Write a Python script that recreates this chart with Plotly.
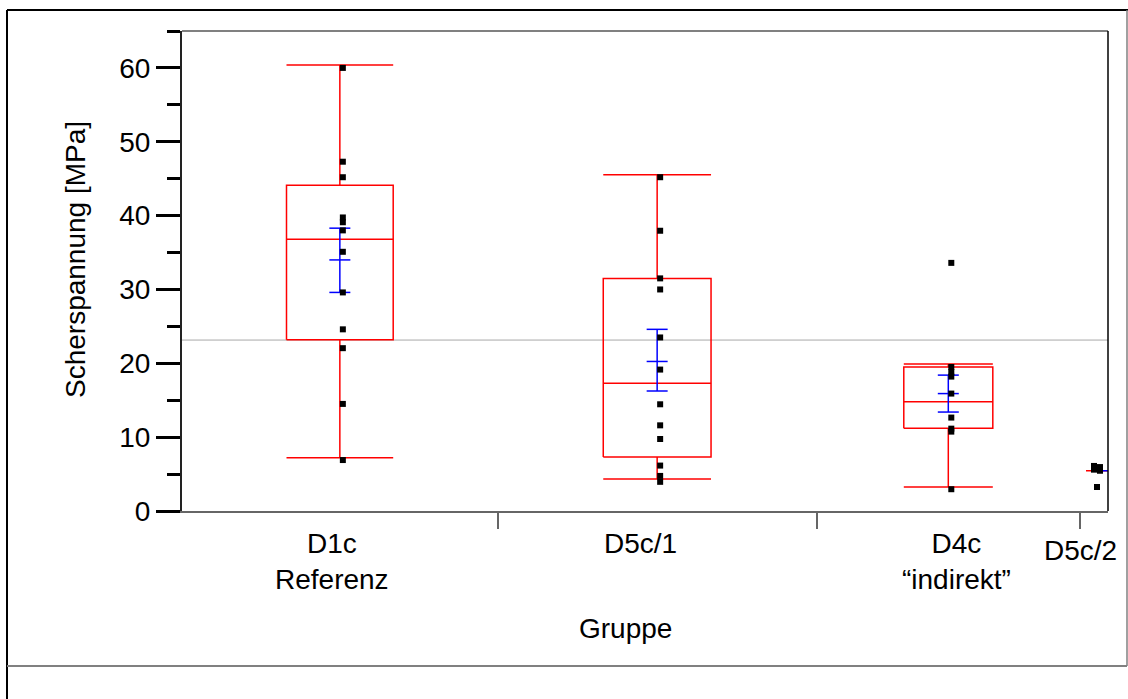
import plotly.graph_objects as go

# ---------------- data ----------------
groups = ["D1c", "D5c/1", "D4c", "D5c/2"]
group_labels = ["D1c<br>Referenz", "D5c/1", "D4c<br>\u201cindirekt\u201d", "D5c/2"]

points_d1c = [60.0, 47.3, 45.2, 39.75, 39.1, 38.0, 35.1, 29.6, 24.6, 22.05, 14.5, 6.9]
points_d5c1 = [45.2, 37.95, 31.5, 30.0, 23.5, 19.15, 14.45, 11.6, 9.75, 6.15, 4.75, 3.95]
points_d4c = [33.6, 19.5, 18.8, 18.2, 15.9, 12.65, 11.15, 10.75, 2.95]
points_d5c2 = [6.1, 5.95, 5.6, 5.45, 3.25]

q1 = [23.2, 7.3, 11.2, None]
median = [36.8, 17.3, 14.8, 5.45]
q3 = [44.1, 31.5, 19.5, None]
whisker_low = [7.2, 4.35, 3.25, None]
whisker_high = [60.4, 45.55, 19.9, None]
mean = [34.0, 20.25, 15.9, 5.45]
se_low = [29.6, 16.25, 13.4, None]
se_high = [38.3, 24.6, 18.4, None]
grand_mean = 23.15

y_tick_values = [0, 10, 20, 30, 40, 50, 60]
y_tick_labels = ["0", "10", "20", "30", "40", "50", "60"]

points = [points_d1c, points_d5c1, points_d4c, points_d5c2]

# ---------------- layout constants ----------------
W, H = 1128, 699
L, R, T, B = 182, 1108, 31, 511
group_span = [315.7, 318.9, 263.4, 28.0]       # relative category widths (JMP style)
jitter = [None, None, None, [-3, 3, -3, 3, 0]]
label_dx = [-8, -17, 8, -14]
label_top = [526, 526, 526, 533]
FONT = "Liberation Sans, Arial, sans-serif"
RED = "#ff0000"
BLUE = "#0000ff"


def px2x(px):
    return (px - L) / (R - L)


def py2y(py):
    return (B - py) / (B - T)


starts = []
acc = 0.0
for s in group_span:
    starts.append(acc)
    acc += s
total = acc
centers = [st + s / 2 for st, s in zip(starts, group_span)]
boundaries = starts[1:]

fig = go.Figure()

# grand mean line
fig.add_trace(go.Scatter(x=[0, total], y=[grand_mean, grand_mean], mode="lines",
                         line=dict(color="#a8a8a8", width=1), hoverinfo="skip", showlegend=False))

# red boxes, whiskers, medians
for i in range(len(groups)):
    c = centers[i]
    hw = group_span[i] * 0.169
    xs, ys = [], []
    if q1[i] is not None:
        xs += [c - hw, c + hw, c + hw, c - hw, c - hw, None]
        ys += [q1[i], q1[i], q3[i], q3[i], q1[i], None]
        xs += [c - hw, c + hw, None]
        ys += [median[i], median[i], None]
        xs += [c, c, None, c, c, None]
        ys += [q3[i], whisker_high[i], None, q1[i], whisker_low[i], None]
        xs += [c - hw, c + hw, None, c - hw, c + hw, None]
        ys += [whisker_high[i], whisker_high[i], None, whisker_low[i], whisker_low[i], None]
    else:
        xs += [c - 8, c + 14, None]
        ys += [median[i], median[i], None]
    fig.add_trace(go.Scatter(x=xs, y=ys, mode="lines", line=dict(color=RED, width=1.5),
                             hoverinfo="skip", showlegend=False))

# blue mean / error bars
for i in range(len(groups)):
    c = centers[i]
    xs, ys = [], []
    if se_low[i] is not None:
        xs += [c, c, None]
        ys += [se_low[i], se_high[i], None]
        for v in (se_low[i], mean[i], se_high[i]):
            xs += [c - 10.5, c + 10.5, None]
            ys += [v, v, None]
    else:
        xs += [c + 3, c + 14, None]
        ys += [mean[i], mean[i], None]
    fig.add_trace(go.Scatter(x=xs, y=ys, mode="lines", line=dict(color=BLUE, width=1.5),
                             hoverinfo="skip", showlegend=False))

# data points
for i in range(len(groups)):
    c = centers[i]
    jit = jitter[i] if jitter[i] is not None else [0] * len(points[i])
    fig.add_trace(go.Scatter(x=[c + 3 + j for j in jit], y=points[i], mode="markers",
                             marker=dict(symbol="square", size=6, color="black", line=dict(width=0)),
                             name=groups[i], showlegend=False))

annotations = []
for i in range(len(groups)):
    annotations.append(dict(x=centers[i] + label_dx[i], xref="x", y=py2y(label_top[i]), yref="paper",
                            text=group_labels[i], showarrow=False, xanchor="center", yanchor="top",
                            font=dict(family=FONT, size=28, color="black")))
annotations.append(dict(x=px2x(625), xref="paper", y=py2y(611), yref="paper", text="Gruppe",
                        showarrow=False, xanchor="center", yanchor="top",
                        font=dict(family=FONT, size=28, color="black")))
annotations.append(dict(x=px2x(75), xref="paper", y=py2y(260), yref="paper", text="Scherspannung [MPa]",
                        showarrow=False, xanchor="center", yanchor="middle", textangle=-90,
                        font=dict(family=FONT, size=28, color="black")))

shapes = [
    # outer frame
    dict(type="line", xref="paper", yref="paper", x0=px2x(7), x1=px2x(1128), y0=py2y(10), y1=py2y(10),
         line=dict(color="black", width=2)),
    dict(type="line", xref="paper", yref="paper", x0=px2x(7), x1=px2x(7), y0=py2y(10), y1=py2y(699),
         line=dict(color="black", width=2)),
    dict(type="line", xref="paper", yref="paper", x0=px2x(1127), x1=px2x(1127), y0=py2y(10), y1=py2y(666),
         line=dict(color="#808080", width=1.5)),
    dict(type="line", xref="paper", yref="paper", x0=px2x(7), x1=px2x(1127), y0=py2y(666), y1=py2y(666),
         line=dict(color="#808080", width=2)),
    # plot frame top / right
    dict(type="line", xref="paper", yref="paper", x0=0, x1=1, y0=1, y1=1,
         line=dict(color="#808080", width=2)),
    dict(type="line", xref="paper", yref="paper", x0=1, x1=1, y0=0, y1=1,
         line=dict(color="black", width=1.5)),
]

fig.update_layout(
    width=W, height=H,
    margin=dict(l=L, r=W - R, t=T, b=H - B, pad=0),
    paper_bgcolor="white", plot_bgcolor="white",
    showlegend=False,
    annotations=annotations,
    shapes=shapes,
    xaxis=dict(range=[0, total], showgrid=False, zeroline=False, showline=True,
               linecolor="#666666", linewidth=2,
               tickmode="array", tickvals=boundaries, ticks="outside", ticklen=16,
               tickwidth=1.5, tickcolor="#666666", showticklabels=False, fixedrange=True),
    yaxis=dict(range=[0, 65], showgrid=False, zeroline=False, showline=True,
               linecolor="#222222", linewidth=2,
               tickmode="array", tickvals=y_tick_values, ticktext=y_tick_labels,
               ticks="outside", ticklen=24, tickwidth=3, tickcolor="black",
               ticklabelstandoff=0,
               tickfont=dict(family=FONT, size=28, color="black"),
               minor=dict(tickmode="array", tickvals=[5, 15, 25, 35, 45, 55, 65], ticks="outside",
                          ticklen=13, tickwidth=3, tickcolor="black"),
               fixedrange=True),
    font=dict(family=FONT, color="black"),
)

fig.write_html("out.html", config={"displayModeBar": False},
               post_script="document.body.style.margin='0';document.body.style.overflow='hidden';")
